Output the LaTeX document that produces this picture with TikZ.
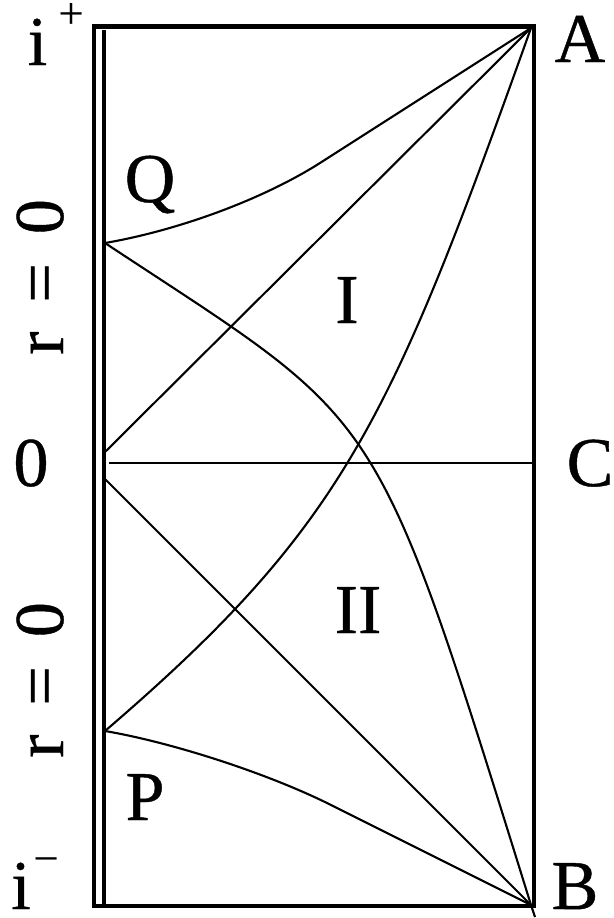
\documentclass[tikz,border=0pt]{standalone}
\usepackage{fontspec}
\setmainfont{Liberation Serif}[FakeBold=0.6]
\begin{document}
\begin{tikzpicture}[x=1pt,y=-1pt,
  frame/.style={line width=4.3pt},
  thinline/.style={line width=2.1pt},
  lbl/.style={inner sep=0pt, anchor=base, text depth=0pt, text height=0.7em, font=\fontsize{70}{80}\selectfont},
  suplbl/.style={inner sep=0pt, anchor=base, text depth=0pt, text height=0.5em, font=\fontsize{44}{50}\selectfont}]
\useasboundingbox (0,0) rectangle (613,918);
% named points
\coordinate (A) at (531,28);
\coordinate (B) at (531,905);
\coordinate (Bx) at (535,917);
\coordinate (Q) at (105,243);
\coordinate (P) at (105,731);
\coordinate (Qm) at (320,163);
\coordinate (Pm) at (330,804.5);
\coordinate (O1) at (105,452);
\coordinate (O2) at (105,479);
\coordinate (O3) at (109,463);
\coordinate (C0) at (532,463);
% frame
\draw[frame] (94,26.5) rectangle (534,906);
\draw[frame] (104,30) -- (104,906);
% thin lines
\draw[thinline] (Q) .. controls (175,231) and (260,201) .. (Qm) -- (A);
\draw[thinline] (Q) .. controls (385,428) and (372,394) .. (B) -- (Bx);
\draw[thinline] (P) .. controls (345,525) and (391,420) .. (A);
\draw[thinline] (P) .. controls (175,743) and (270,774.5) .. (Pm) -- (B);
\draw[thinline] (O1) -- (A);
\draw[thinline] (O2) -- (B);
\draw[thinline] (O3) -- (C0);
% labels
\node[lbl] (iplus) at (37.5,65) {i};
\node[suplbl] (plus) at (71,28) {+};
\node[lbl] (iminus) at (21,909) {i};
\node[suplbl] (minus) at (46,873) {\symbol{"2212}};
\node[lbl] (lA) at (580,62) {A};
\node[lbl] (lB) at (575,909) {B};
\node[lbl] (lC) at (590,486) {C};
\node[lbl] (l0) at (31,486) {0};
\node[lbl] (lQ) at (150,202) {Q};
\node[lbl] (lI) at (347,323) {I};
\node[lbl] (lII) at (358,633) {II};
\node[lbl] (lP) at (145,820) {P};
\node[lbl, rotate=90] (r1) at (63,277) {r\kern29pt=\kern29pt0};
\node[lbl, rotate=90] (r2) at (63,680) {r\kern29pt=\kern29pt0};
\end{tikzpicture}
\end{document}
